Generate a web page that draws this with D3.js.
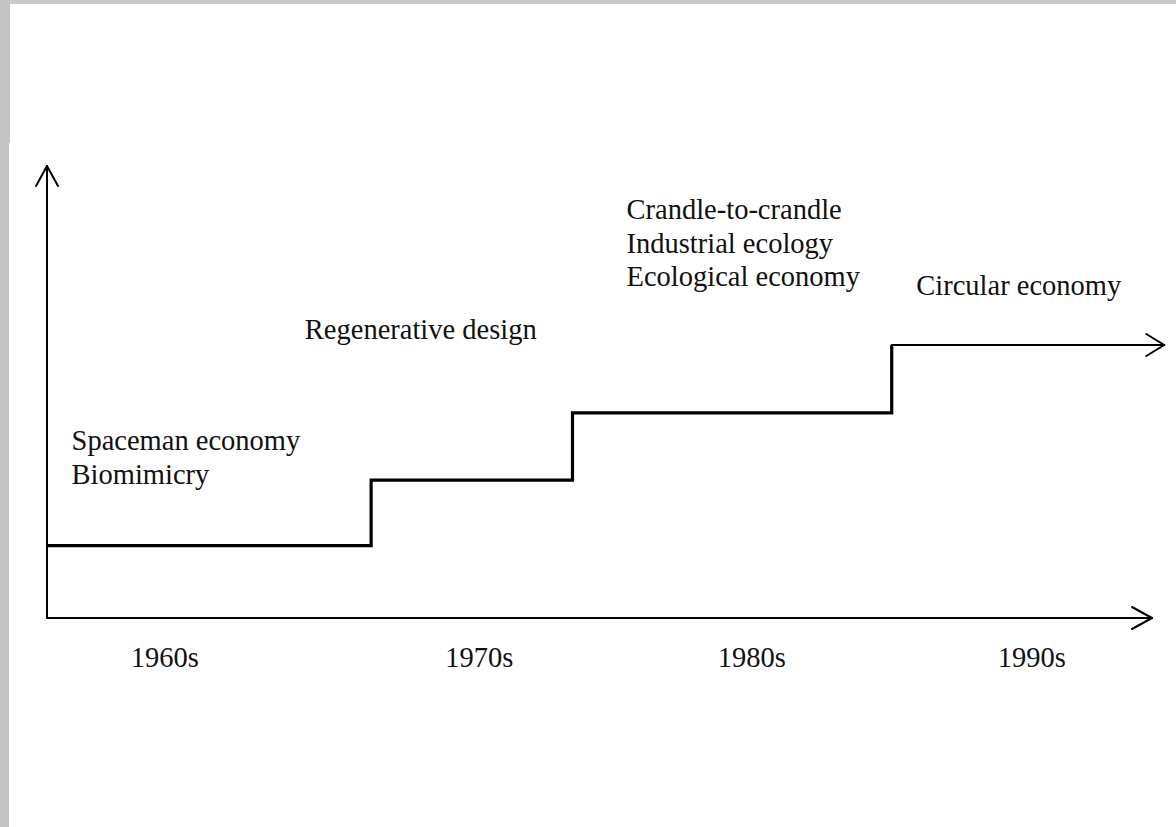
<!DOCTYPE html>
<html>
<head>
<meta charset="utf-8">
<script src="https://cdn.jsdelivr.net/npm/d3@7"></script>
<style>
html,body{margin:0;padding:0;background:#fff;}
svg{display:block;}
text{font-family:"Liberation Serif","Times New Roman",serif;font-size:28.5px;fill:#111;}
</style>
</head>
<body>
<svg id="chart" width="1176" height="827"></svg>
<script>
// ---- data ----
const decades = ["1960s", "1970s", "1980s", "1990s"];
const decadeCenters = [1959.8, 1972.6, 1983.7, 1995.1];
// step transitions (year) and levels
const stepStarts = [1955, 1968.2, 1976.4, 1989.4];
const stepEnd = 2000.5;
const stepLevels = [16, 30.5, 45.4, 60.4];
// concept labels attached to each step
const conceptLines = [
  ["Spaceman economy", "Biomimicry"],
  ["Regenerative design"],
  ["Crandle-to-crandle", "Industrial ecology", "Ecological economy"],
  ["Circular economy"]
];
const conceptX = [1956, 1965.5, 1978.6, 1990.4];
const conceptTopY = [37.1, 61.8, 88.2, 71.4];

// ---- drawing ----
const svg = d3.select("#chart");
const W = 1176, H = 827;

// screenshot frame
svg.append("rect").attr("x",0).attr("y",0).attr("width",W).attr("height",H).attr("fill","#fff");
svg.append("rect").attr("x",0).attr("y",0).attr("width",W).attr("height",4).attr("fill","#c9c9c9");
svg.append("rect").attr("x",0).attr("y",0).attr("width",10).attr("height",143).attr("fill","#c4c4c4");
svg.append("rect").attr("x",0).attr("y",143).attr("width",9).attr("height",H-143).attr("fill","#c4c4c4");

const x = d3.scaleLinear().domain([1955, 2000]).range([47, 1152]);
const y = d3.scaleLinear().domain([0, 100]).range([618, 166]);

// axes
const axisG = svg.append("g").attr("stroke","#000").attr("stroke-width",2).attr("fill","none")
  .attr("stroke-linecap","round").attr("stroke-linejoin","round");
axisG.append("path").attr("d", d3.line()([[x(1955), y(0)], [x(1955), y(100)]]));
axisG.append("path").attr("d", d3.line()([[x(1955), y(0)], [x(2000), y(0)]]));
// arrowheads
const ah = 20, aw = 11;
axisG.append("path").attr("d", d3.line()([[x(1955)-aw, y(100)+ah], [x(1955), y(100)], [x(1955)+aw, y(100)+ah]]));
axisG.append("path").attr("d", d3.line()([[x(2000)-ah, y(0)-aw], [x(2000), y(0)], [x(2000)-ah, y(0)+aw]]));

// step line
const pts = [];
stepStarts.forEach((s, i) => {
  if (i > 0) pts.push([x(s), y(stepLevels[i-1])]);
  pts.push([x(s), y(stepLevels[i])]);
});
const lastX = stepStarts[stepStarts.length-1];
svg.append("path")
  .attr("d", d3.line()(pts))
  .attr("fill","none").attr("stroke","#000").attr("stroke-width",3.2)
  .attr("stroke-linejoin","miter").attr("stroke-linecap","butt");
// final arrowed segment
const lv = y(stepLevels[stepLevels.length-1]);
const fg = svg.append("g").attr("stroke","#000").attr("fill","none").attr("stroke-width",2)
  .attr("stroke-linecap","round").attr("stroke-linejoin","round");
fg.append("path").attr("d", d3.line()([[x(lastX), lv], [x(stepEnd), lv]]));
fg.append("path").attr("d", d3.line()([[x(stepEnd)-18, lv-11], [x(stepEnd), lv], [x(stepEnd)-18, lv+11]]));

// decade labels
svg.append("g").selectAll("text").data(decades).join("text")
  .attr("x", (d,i) => x(decadeCenters[i]))
  .attr("y", 667)
  .attr("text-anchor","middle")
  .text(d => d);

// concept labels
const lineH = 33.5;
conceptLines.forEach((lines, i) => {
  const t = svg.append("text").attr("x", x(conceptX[i])).attr("y", y(conceptTopY[i]));
  lines.forEach((l, j) => {
    t.append("tspan").attr("x", x(conceptX[i])).attr("dy", j === 0 ? 0 : lineH).text(l);
  });
});
</script>
</body>
</html>
